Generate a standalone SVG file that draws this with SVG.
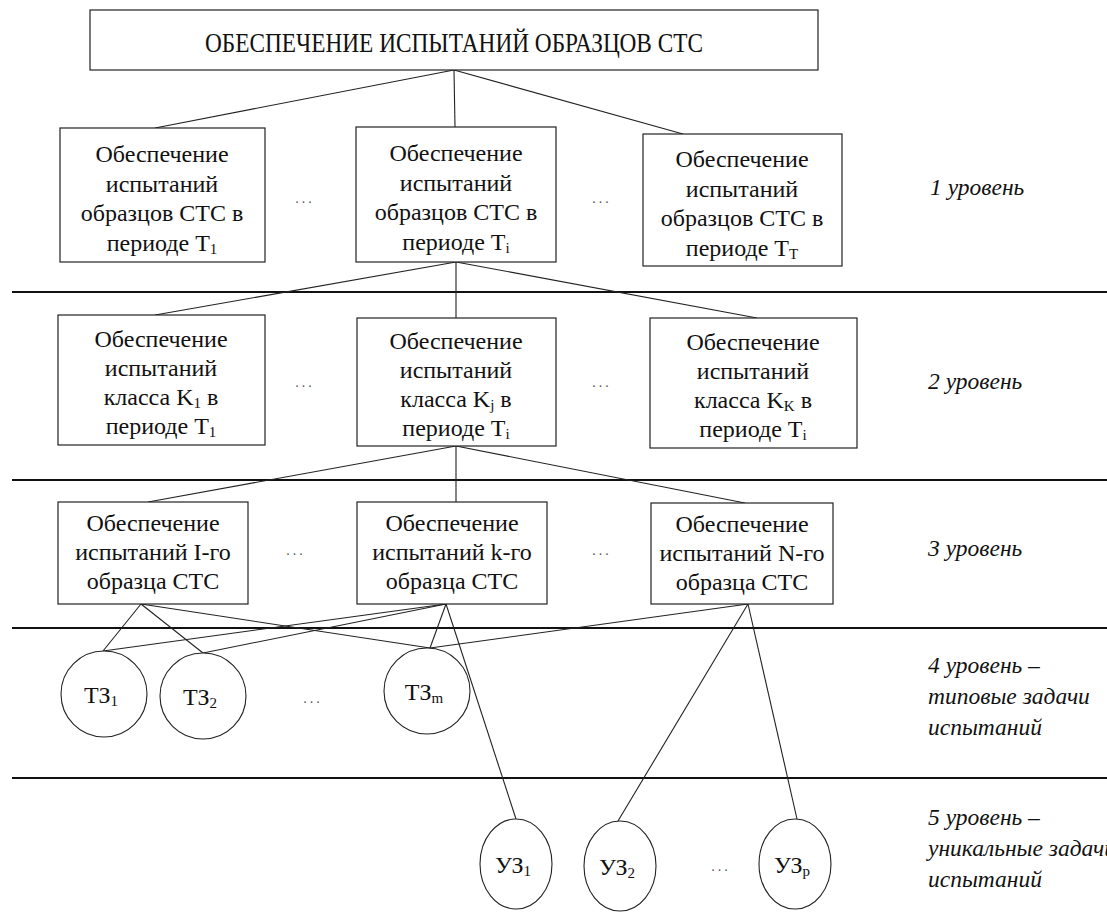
<svg xmlns="http://www.w3.org/2000/svg" width="1107" height="916" viewBox="0 0 1107 916">
  <rect width="1107" height="916" fill="#fff"/>

  <!-- level separators -->
  <g id="separators" stroke="#111" stroke-width="2">
    <line x1="12" y1="292" x2="1107" y2="292"/>
    <line x1="12" y1="480" x2="1107" y2="480"/>
    <line x1="12" y1="628" x2="1107" y2="628"/>
    <line x1="12" y1="778" x2="1107" y2="778"/>
  </g>

  <!-- connectors -->
  <g id="connectors" stroke="#222" stroke-width="1.1">
    <line x1="454" y1="70" x2="155" y2="128"/>
    <line x1="454" y1="70" x2="455" y2="127"/>
    <line x1="454" y1="70" x2="683" y2="134"/>

    <line x1="456" y1="262" x2="155" y2="315"/>
    <line x1="456" y1="262" x2="456" y2="318"/>
    <line x1="456" y1="262" x2="757" y2="318"/>

    <line x1="456" y1="446" x2="148" y2="502"/>
    <line x1="456" y1="446" x2="456" y2="502"/>
    <line x1="456" y1="446" x2="745" y2="503"/>

    <line x1="141" y1="604" x2="103" y2="651"/>
    <line x1="141" y1="604" x2="203" y2="653"/>
    <line x1="141" y1="604" x2="430" y2="648"/>
    <line x1="446" y1="604" x2="103" y2="651"/>
    <line x1="446" y1="604" x2="203" y2="653"/>
    <line x1="446" y1="604" x2="430" y2="648"/>
    <line x1="446" y1="604" x2="516" y2="819"/>
    <line x1="748" y1="604" x2="430" y2="648"/>
    <line x1="748" y1="604" x2="618" y2="821"/>
    <line x1="748" y1="604" x2="797" y2="819"/>
  </g>

  <!-- nodes: shared outline and text look -->
  <g fill="#111" font-size="24" text-anchor="middle" font-family="Liberation Serif">
    <g id="root">
      <rect x="90" y="10" width="728" height="60" fill="#fff" stroke="#222" stroke-width="1.2"/>
      <text font-family="Liberation Serif" font-size="28" x="454" y="52" textLength="498" lengthAdjust="spacingAndGlyphs">ОБЕСПЕЧЕНИЕ ИСПЫТАНИЙ ОБРАЗЦОВ СТС</text>
    </g>

    <!-- level 1 -->
    <g id="l1-period-1">
      <rect x="60" y="128" width="205" height="134" fill="#fff" stroke="#222" stroke-width="1.2"/>
      <text font-family="Liberation Serif" x="162" y="162">Обеспечение</text>
      <text font-family="Liberation Serif" x="162" y="191.5">испытаний</text>
      <text font-family="Liberation Serif" x="162" y="221">образцов СТС в</text>
      <text font-family="Liberation Serif" x="162" y="250.5">периоде T<tspan font-size="15" dy="3">1</tspan></text>
    </g>
    <g id="l1-period-i">
      <rect x="356" y="127" width="200" height="135" fill="#fff" stroke="#222" stroke-width="1.2"/>
      <text font-family="Liberation Serif" x="456" y="161">Обеспечение</text>
      <text font-family="Liberation Serif" x="456" y="190.5">испытаний</text>
      <text font-family="Liberation Serif" x="456" y="220">образцов СТС в</text>
      <text font-family="Liberation Serif" x="456" y="249.5">периоде T<tspan font-size="15" dy="3">i</tspan></text>
    </g>
    <g id="l1-period-T">
      <rect x="643" y="134" width="199" height="132" fill="#fff" stroke="#222" stroke-width="1.2"/>
      <text font-family="Liberation Serif" x="742" y="167">Обеспечение</text>
      <text font-family="Liberation Serif" x="742" y="196.5">испытаний</text>
      <text font-family="Liberation Serif" x="742" y="226">образцов СТС в</text>
      <text font-family="Liberation Serif" x="742" y="255.5">периоде T<tspan font-size="15" dy="3">T</tspan></text>
    </g>

    <!-- level 2 -->
    <g id="l2-class-1">
      <rect x="58" y="315" width="207" height="130" fill="#fff" stroke="#222" stroke-width="1.2"/>
      <text font-family="Liberation Serif" x="161" y="347">Обеспечение</text>
      <text font-family="Liberation Serif" x="161" y="376">испытаний</text>
      <text font-family="Liberation Serif" x="161" y="405">класса K<tspan font-size="15" dy="3">1</tspan><tspan dy="-3"> в</tspan></text>
      <text font-family="Liberation Serif" x="161" y="434">периоде T<tspan font-size="15" dy="3">1</tspan></text>
    </g>
    <g id="l2-class-j">
      <rect x="357" y="318" width="199" height="128" fill="#fff" stroke="#222" stroke-width="1.2"/>
      <text font-family="Liberation Serif" x="456" y="349">Обеспечение</text>
      <text font-family="Liberation Serif" x="456" y="378">испытаний</text>
      <text font-family="Liberation Serif" x="456" y="407">класса K<tspan font-size="15" dy="3">j</tspan><tspan dy="-3"> в</tspan></text>
      <text font-family="Liberation Serif" x="456" y="436">периоде T<tspan font-size="15" dy="3">i</tspan></text>
    </g>
    <g id="l2-class-K">
      <rect x="650" y="318" width="207" height="130" fill="#fff" stroke="#222" stroke-width="1.2"/>
      <text font-family="Liberation Serif" x="753" y="350">Обеспечение</text>
      <text font-family="Liberation Serif" x="753" y="379">испытаний</text>
      <text font-family="Liberation Serif" x="753" y="408">класса K<tspan font-size="15" dy="3">K</tspan><tspan dy="-3"> в</tspan></text>
      <text font-family="Liberation Serif" x="753" y="437">периоде T<tspan font-size="15" dy="3">i</tspan></text>
    </g>

    <!-- level 3 -->
    <g id="l3-sample-1">
      <rect x="58" y="502" width="190" height="102" fill="#fff" stroke="#222" stroke-width="1.2"/>
      <text font-family="Liberation Serif" x="153" y="531">Обеспечение</text>
      <text font-family="Liberation Serif" x="153" y="560">испытаний I-го</text>
      <text font-family="Liberation Serif" x="153" y="589">образца СТС</text>
    </g>
    <g id="l3-sample-k">
      <rect x="357" y="502" width="190" height="102" fill="#fff" stroke="#222" stroke-width="1.2"/>
      <text font-family="Liberation Serif" x="452" y="531">Обеспечение</text>
      <text font-family="Liberation Serif" x="452" y="560">испытаний k-го</text>
      <text font-family="Liberation Serif" x="452" y="589">образца СТС</text>
    </g>
    <g id="l3-sample-N">
      <rect x="651" y="503" width="182" height="101" fill="#fff" stroke="#222" stroke-width="1.2"/>
      <text font-family="Liberation Serif" x="742" y="532">Обеспечение</text>
      <text font-family="Liberation Serif" x="742" y="561">испытаний N-го</text>
      <text font-family="Liberation Serif" x="742" y="590">образца СТС</text>
    </g>

    <!-- level 4: typical tasks -->
    <g id="tz-1">
      <circle cx="104" cy="694" r="43" fill="#fff" stroke="#222" stroke-width="1.1"/>
      <text font-family="Liberation Serif" x="101" y="703">ТЗ<tspan font-size="15" dy="3">1</tspan></text>
    </g>
    <g id="tz-2">
      <circle cx="203" cy="696" r="43" fill="#fff" stroke="#222" stroke-width="1.1"/>
      <text font-family="Liberation Serif" x="200" y="705">ТЗ<tspan font-size="15" dy="3">2</tspan></text>
    </g>
    <g id="tz-m">
      <circle cx="427" cy="691" r="43" fill="#fff" stroke="#222" stroke-width="1.1"/>
      <text font-family="Liberation Serif" x="424" y="700">ТЗ<tspan font-size="15" dy="3">m</tspan></text>
    </g>

    <!-- level 5: unique tasks -->
    <g id="uz-1">
      <ellipse cx="516" cy="864" rx="36" ry="45" fill="#fff" stroke="#222" stroke-width="1.1"/>
      <text font-family="Liberation Serif" x="513" y="873">УЗ<tspan font-size="15" dy="3">1</tspan></text>
    </g>
    <g id="uz-2">
      <ellipse cx="620" cy="866" rx="36" ry="45" fill="#fff" stroke="#222" stroke-width="1.1"/>
      <text font-family="Liberation Serif" x="617" y="875">УЗ<tspan font-size="15" dy="3">2</tspan></text>
    </g>
    <g id="uz-p">
      <ellipse cx="795" cy="864" rx="36" ry="45" fill="#fff" stroke="#222" stroke-width="1.1"/>
      <text font-family="Liberation Serif" x="792" y="873">УЗ<tspan font-size="15" dy="3">p</tspan></text>
    </g>
  </g>

  <!-- ellipsis marks between nodes -->
  <g id="ellipses" fill="#555" font-size="14" letter-spacing="3" text-anchor="middle" font-family="Liberation Serif">
    <text font-family="Liberation Serif" x="305" y="203">...</text>
    <text font-family="Liberation Serif" x="602" y="203">...</text>
    <text font-family="Liberation Serif" x="305" y="387">...</text>
    <text font-family="Liberation Serif" x="602" y="387">...</text>
    <text font-family="Liberation Serif" x="296" y="555">...</text>
    <text font-family="Liberation Serif" x="602" y="555">...</text>
    <text font-family="Liberation Serif" x="313" y="703">...</text>
    <text font-family="Liberation Serif" x="721" y="871">...</text>
  </g>

  <!-- level captions -->
  <g id="level-captions" fill="#111" font-size="23.5" font-style="italic" font-family="Liberation Serif">
    <text font-family="Liberation Serif" x="930" y="195">1 уровень</text>
    <text font-family="Liberation Serif" x="928" y="389">2 уровень</text>
    <text font-family="Liberation Serif" x="928" y="556">3 уровень</text>
    <text font-family="Liberation Serif" x="928" y="673">4 уровень –</text>
    <text font-family="Liberation Serif" x="928" y="704">типовые задачи</text>
    <text font-family="Liberation Serif" x="928" y="735">испытаний</text>
    <text font-family="Liberation Serif" x="928" y="825">5 уровень –</text>
    <text font-family="Liberation Serif" x="928" y="856">уникальные задачи</text>
    <text font-family="Liberation Serif" x="928" y="887">испытаний</text>
  </g>
</svg>
